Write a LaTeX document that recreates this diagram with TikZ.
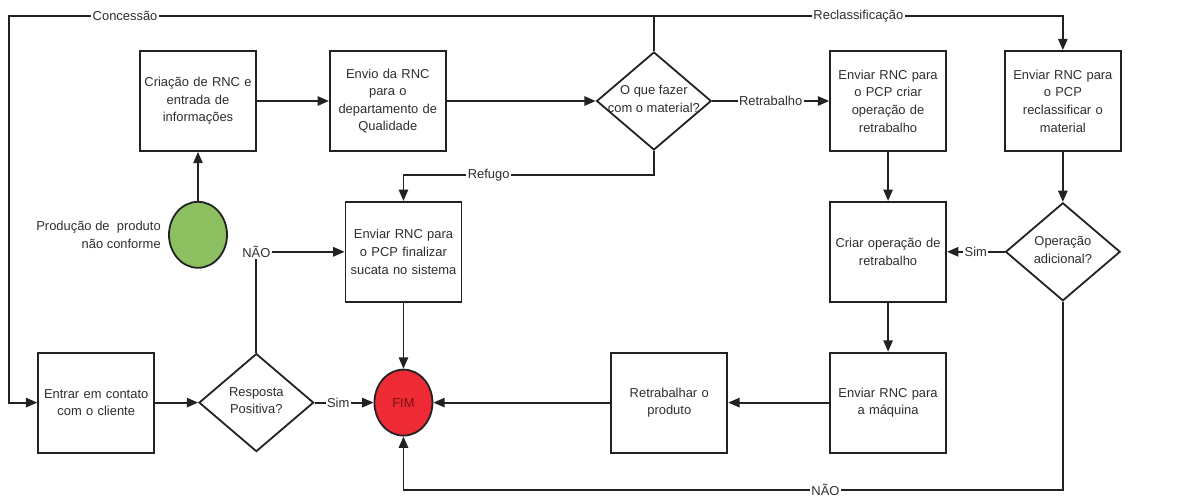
\documentclass[tikz,border=0pt]{standalone}
\usepackage{fontspec}
\setmainfont{Liberation Sans}
\definecolor{linec}{HTML}{222222}
\definecolor{textc}{HTML}{2E2E2E}
\definecolor{startg}{HTML}{8CBF5F}
\definecolor{endr}{HTML}{EE2A35}
\definecolor{endtxt}{HTML}{7A1212}
\usetikzlibrary{arrows.meta, positioning, shapes.geometric}
\newcommand{\diatext}[1]{\raisebox{-0.35em}{\makebox[0pt]{\smash{\begin{tabular}{@{}c@{}}#1\end{tabular}}}}}

\begin{document}
\begin{tikzpicture}[
    x=0.75pt, y=-0.75pt,
    every node/.style={font=\fontsize{9.7}{13.2}\selectfont, text=textc},
    box/.style={draw=linec, line width=1.35pt, fill=white, align=center, minimum width=87pt, minimum height=75pt, text width=84pt, inner sep=0pt},
    dia/.style={diamond, draw=linec, line width=1.35pt, fill=white, minimum width=86pt, minimum height=73.5pt, inner sep=0pt},
    term/.style={ellipse, draw=linec, line width=1.35pt, minimum width=43.5pt, minimum height=49.5pt, inner sep=0pt},
    arr/.style={-{Triangle[length=8.5pt, width=7pt]}, line width=1.35pt, color=linec},
    lbl/.style={fill=white, inner sep=1pt},
  ]
  \useasboundingbox (0,0) rectangle (1190,496);
  % top row
  \node[box] (cri) at (198,101) {Criação de RNC e\\entrada de\\informações};
  \node[box, right=54pt of cri] (env) {Envio da RNC\\para o\\departamento de\\Qualidade};
  \node[dia, right=111.75pt of env] (dq) {\diatext{O que fazer\\com o material?}};
  \node[box, right=87.75pt of dq] (ret) {Enviar RNC para\\o PCP criar\\operação de\\retrabalho};
  \node[box, right=42.75pt of ret] (rec) {Enviar RNC para\\o PCP\\reclassificar o\\material};
  % middle and bottom rows
  \node[box, below=36.75pt of ret] (crie) {Criar operação de\\retrabalho};
  \node[dia, below=37.5pt of rec] (op) {\diatext{Operação\\adicional?}};
  \node[box, below=36.75pt of crie] (maq) {Enviar RNC para\\a máquina};
  \node[box, left=75.75pt of maq] (rtb) {Retrabalhar o\\produto};
  \node[term, fill=endr, left=132.75pt of rtb] (fim) {\textcolor{endtxt}{FIM}};
  \node[dia, left=44.25pt of fim] (res) {\diatext{Resposta\\Positiva?}};
  \node[box, left=32.25pt of res] (ent) {Entrar em contato\\com o cliente};
  \node[box, above=49.5pt of fim] (suc) {Enviar RNC para\\o PCP finalizar\\sucata no sistema};
  \node[term, fill=startg, below=36.75pt of cri] (ini) {};
  \node[left=2pt of ini, align=right] (lprod) {Produção de\ \ produto\\não conforme};

  \coordinate (cor1) at (9,16);
  \coordinate (cor2) at (rec.north |- cor1);

  \draw[arr] (ini) -- (cri);
  \draw[arr] (cri) -- (env);
  \draw[arr] (env) -- (dq);
  \draw[arr] (dq.east) -- node[lbl]{Retrabalho} (ret.west);
  \draw[arr] (dq.north) |- node[lbl, pos=0.91]{Concessão} (cor1) |- (ent.west);
  \draw[arr] (dq.north) |- node[lbl, pos=0.75]{Reclassificação} (cor2) -- (rec.north);
  \draw[arr] (dq.south) -- ++(0,24) -| node[lbl, pos=0.33]{Refugo} (suc.north);
  \draw[arr] (ret) -- (crie);
  \draw[arr] (rec) -- (op);
  \draw[arr] (op.west) -- node[lbl]{Sim} (crie.east);
  \draw[arr] (crie) -- (maq);
  \draw[arr] (maq) -- (rtb);
  \draw[arr] (rtb) -- (fim);
  \draw[arr] (op.south) -- ++(0,188) -| node[lbl, pos=0.18]{NÃO} (fim.south);
  \draw[arr] (suc) -- (fim);
  \draw[arr] (ent) -- (res);
  \draw[arr] (res.east) -- node[lbl, pos=0.4]{Sim} (fim.west);
  \draw[arr] (res.north) |- node[lbl, pos=0.5]{NÃO} (suc.west);
\end{tikzpicture}
\end{document}
